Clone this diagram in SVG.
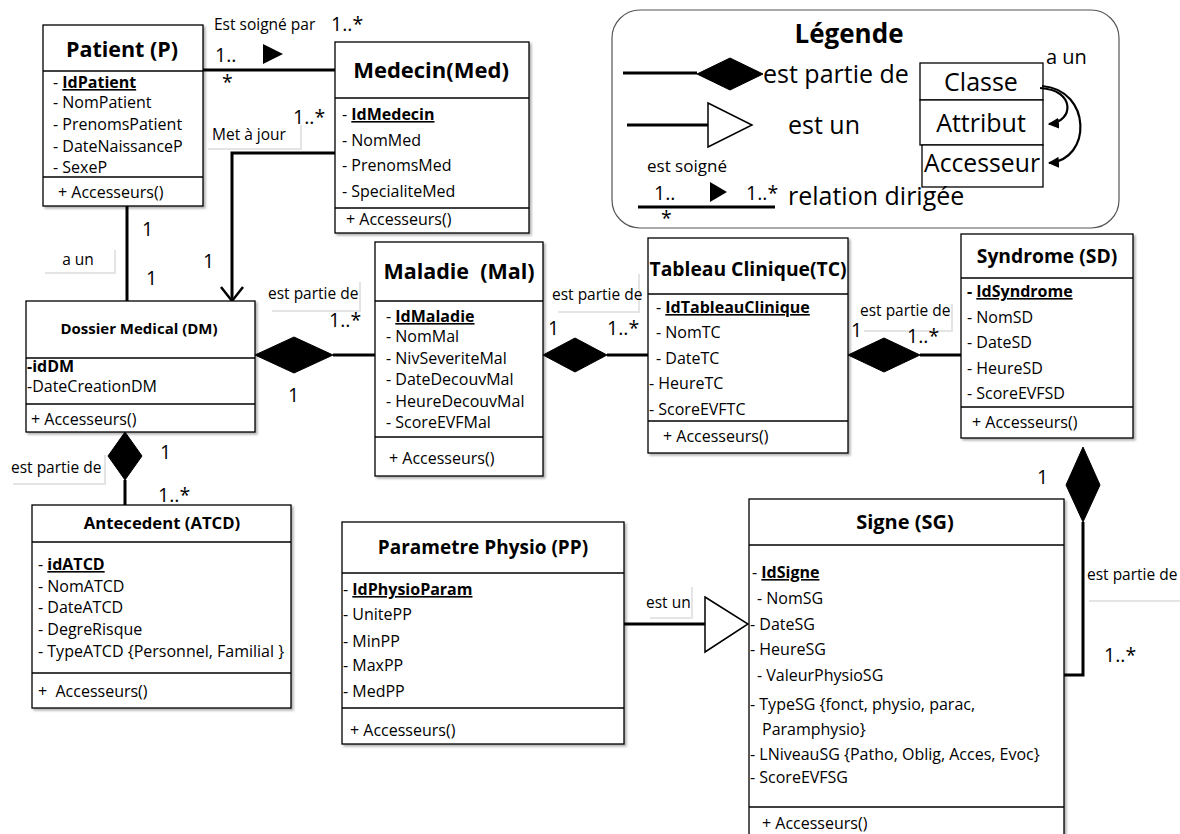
<svg xmlns="http://www.w3.org/2000/svg" width="1180" height="834" viewBox="0 0 1180 834">
<defs>
<style>
.box{fill:#fff;stroke:#000;stroke-width:1.3}
.sep{stroke:#000;stroke-width:1.3}
text{font-family:"Open Sans","Noto Sans","Liberation Sans",sans-serif;fill:#000}
.a{font-size:16px}
.ttl{font-weight:bold;text-anchor:middle}
.b{font-weight:bold}
.u{font-weight:bold;text-decoration:underline}
.lbl{font-size:15.5px}
.m{font-size:19.5px}
.lg{font-size:25px}
.ln{stroke:#000;stroke-width:3;fill:none}
.dia{fill:#000;stroke:#000;stroke-width:1}
.gen{fill:#fff;stroke:#000;stroke-width:1.5}
.lb{fill:#fff}
.lbs{fill:#e4e4e4}
</style>
<filter id="sh" x="-5%" y="-5%" width="115%" height="115%">
<feDropShadow dx="2" dy="2" stdDeviation="1.2" flood-color="#000" flood-opacity="0.3"/>
</filter>
<marker id="ah" viewBox="0 0 10 10" refX="9" refY="5" markerWidth="5" markerHeight="5" orient="auto">
<path d="M0,0 L10,5 L0,10 z" fill="#000"/>
</marker>
</defs>
<rect width="1180" height="834" fill="#fff"/>

<g id="connectors">
<!-- Patient - Medecin -->
<line class="ln" x1="203" y1="70" x2="335" y2="70"/>
<polygon points="263,44 283,54 263,64" fill="#000"/>
<text class="lbl" x="214" y="30">Est soigné par</text>
<text class="m" x="331" y="31">1..*</text>
<text class="m" x="215" y="62">1..</text>
<text class="m" x="222" y="89">*</text>
<!-- Medecin - DM -->
<polyline class="ln" points="335,153 232,153 232,300"/>
<polyline points="221,287 232,301 243,287" fill="none" stroke="#000" stroke-width="2.5"/>
<rect class="lbs" x="208" y="125" width="94" height="25"/>
<rect class="lb" x="206" y="123" width="94" height="25"/>
<text class="lbl" x="212" y="140">Met à jour</text>
<text class="m" x="293" y="124">1..*</text>
<text class="m" x="203" y="268">1</text>
<!-- Patient - DM -->
<line class="ln" x1="127" y1="206" x2="127" y2="301"/>
<text class="m" x="142" y="236">1</text>
<rect class="lbs" x="45" y="250" width="71" height="24"/>
<rect class="lb" x="43" y="248" width="71" height="24"/>
<text class="lbl" x="78" y="265" text-anchor="middle">a un</text>
<text class="m" x="146" y="285">1</text>
<!-- DM - Maladie -->
<polygon class="dia" points="255,355 294,337 333,355 294,373"/>
<line class="ln" x1="333" y1="355" x2="375" y2="355"/>
<rect class="lbs" x="272" y="282" width="89" height="30"/>
<rect class="lb" x="270" y="280" width="89" height="30"/>
<text class="lbl" x="268" y="299">est partie de</text>
<text class="m" x="329" y="327">1..*</text>
<text class="m" x="288" y="402">1</text>
<!-- DM - ATCD -->
<polygon class="dia" points="125,432 142,456 125,480 108,456"/>
<line class="ln" x1="125" y1="480" x2="125" y2="505"/>
<text class="m" x="160" y="459">1</text>
<rect class="lbs" x="13" y="455" width="93" height="30"/>
<rect class="lb" x="11" y="453" width="93" height="30"/>
<text class="lbl" x="11" y="473">est partie de</text>
<text class="m" x="158" y="502">1..*</text>
<!-- Maladie - TC -->
<polygon class="dia" points="543,355 575,338 607,355 575,372"/>
<line class="ln" x1="607" y1="355" x2="648" y2="355"/>
<rect class="lbs" x="558" y="274" width="82" height="39"/>
<rect class="lb" x="556" y="272" width="82" height="39"/>
<text class="lbl" x="552" y="300">est partie de</text>
<text class="m" x="548" y="335">1</text>
<text class="m" x="607" y="335">1..*</text>
<!-- TC - Syndrome -->
<polygon class="dia" points="848,355 884,338 920,355 884,372"/>
<line class="ln" x1="920" y1="355" x2="961" y2="355"/>
<rect class="lbs" x="864" y="304" width="89" height="28"/>
<rect class="lb" x="862" y="302" width="89" height="28"/>
<text class="lbl" x="860" y="316">est partie de</text>
<text class="m" x="851" y="337">1</text>
<text class="m" x="907" y="343">1..*</text>
<!-- Syndrome - Signe -->
<polygon class="dia" points="1083,447 1100,485 1083,522 1066,485"/>
<polyline class="ln" points="1083,522 1083,675 1064,675"/>
<text class="m" x="1037" y="484">1</text>
<rect class="lbs" x="1089" y="545" width="100" height="57"/>
<rect class="lb" x="1087" y="543" width="100" height="57"/>
<text class="lbl" x="1087" y="580">est partie de</text>
<text class="m" x="1104" y="662">1..*</text>
<!-- PP - Signe -->
<line class="ln" x1="624" y1="624" x2="705" y2="624"/>
<polygon class="gen" points="705,597 748,624 705,652"/>
<rect class="lbs" x="650" y="587" width="43" height="32"/>
<rect class="lb" x="648" y="585" width="43" height="32"/>
<text class="lbl" x="646" y="608">est un</text>
</g>

<g id="patient">
<rect class="box" filter="url(#sh)" x="43" y="25" width="160" height="181"/>
<line class="sep" x1="43" y1="71" x2="203" y2="71"/>
<line class="sep" x1="43" y1="177" x2="203" y2="177"/>
<text class="ttl" x="122" y="57" font-size="21.5">Patient (P)</text>
<text class="a" x="53" y="88">- <tspan class="u">IdPatient</tspan></text>
<text class="a" x="53" y="108">- NomPatient</text>
<text class="a" x="53" y="130">- PrenomsPatient</text>
<text class="a" x="53" y="152">- DateNaissanceP</text>
<text class="a" x="53" y="173">- SexeP</text>
<text class="a" x="58" y="198">+ Accesseurs()</text>
</g>

<g id="medecin">
<rect class="box" filter="url(#sh)" x="335" y="42" width="194" height="191"/>
<line class="sep" x1="335" y1="98" x2="529" y2="98"/>
<line class="sep" x1="335" y1="208" x2="529" y2="208"/>
<text class="ttl" x="431" y="78" font-size="22">Medecin(Med)</text>
<text class="a" x="342" y="120">- <tspan class="u">IdMedecin</tspan></text>
<text class="a" x="342" y="146">- NomMed</text>
<text class="a" x="342" y="171">- PrenomsMed</text>
<text class="a" x="342" y="197">- SpecialiteMed</text>
<text class="a" x="346" y="225">+ Accesseurs()</text>
</g>

<g id="dossier-medical">
<rect class="box" filter="url(#sh)" x="26" y="301" width="229" height="131"/>
<line class="sep" x1="26" y1="358" x2="255" y2="358"/>
<line class="sep" x1="26" y1="404" x2="255" y2="404"/>
<text class="ttl" x="139" y="334" font-size="15">Dossier Medical (DM)</text>
<text class="a b" x="27" y="372">-idDM</text>
<text class="a" x="27" y="392">-DateCreationDM</text>
<text class="a" x="31" y="425">+ Accesseurs()</text>
</g>

<g id="maladie">
<rect class="box" filter="url(#sh)" x="375" y="242" width="168" height="234"/>
<line class="sep" x1="375" y1="301" x2="543" y2="301"/>
<line class="sep" x1="375" y1="437" x2="543" y2="437"/>
<text class="ttl" x="459" y="279" font-size="21.5" xml:space="preserve">Maladie  (Mal)</text>
<text class="a" x="386" y="322">- <tspan class="u">IdMaladie</tspan></text>
<text class="a" x="386" y="342">- NomMal</text>
<text class="a" x="386" y="364">- NivSeveriteMal</text>
<text class="a" x="386" y="385">- DateDecouvMal</text>
<text class="a" x="386" y="407">- HeureDecouvMal</text>
<text class="a" x="386" y="428">- ScoreEVFMal</text>
<text class="a" x="389" y="464">+ Accesseurs()</text>
</g>

<g id="tableau-clinique">
<rect class="box" filter="url(#sh)" x="648" y="238" width="200" height="215"/>
<line class="sep" x1="648" y1="294" x2="848" y2="294"/>
<line class="sep" x1="648" y1="421" x2="848" y2="421"/>
<text class="ttl" x="748" y="276" font-size="19.3">Tableau Clinique(TC)</text>
<text class="a" x="656" y="313">- <tspan class="u">IdTableauClinique</tspan></text>
<text class="a" x="656" y="338">- NomTC</text>
<text class="a" x="656" y="364">- DateTC</text>
<text class="a" x="649" y="389">- HeureTC</text>
<text class="a" x="649" y="415">- ScoreEVFTC</text>
<text class="a" x="663" y="442">+ Accesseurs()</text>
</g>

<g id="syndrome">
<rect class="box" filter="url(#sh)" x="961" y="234" width="172" height="204"/>
<line class="sep" x1="961" y1="278" x2="1133" y2="278"/>
<line class="sep" x1="961" y1="407" x2="1133" y2="407"/>
<text class="ttl" x="1047" y="263" font-size="19.3">Syndrome (SD)</text>
<text class="a" x="967" y="297"><tspan class="b">- </tspan><tspan class="u">IdSyndrome</tspan></text>
<text class="a" x="967" y="323">- NomSD</text>
<text class="a" x="967" y="348">- DateSD</text>
<text class="a" x="967" y="374">- HeureSD</text>
<text class="a" x="967" y="399">- ScoreEVFSD</text>
<text class="a" x="972" y="428">+ Accesseurs()</text>
</g>

<g id="antecedent">
<rect class="box" filter="url(#sh)" x="32" y="505" width="259" height="203"/>
<line class="sep" x1="32" y1="542" x2="291" y2="542"/>
<line class="sep" x1="32" y1="673" x2="291" y2="673"/>
<text class="ttl" x="162" y="529" font-size="16.7">Antecedent (ATCD)</text>
<text class="a" x="38" y="570">- <tspan class="u">idATCD</tspan></text>
<text class="a" x="38" y="592">- NomATCD</text>
<text class="a" x="38" y="613">- DateATCD</text>
<text class="a" x="38" y="635">- DegreRisque</text>
<text class="a" x="38" y="657">- TypeATCD {Personnel, Familial }</text>
<text class="a" x="38" y="697" xml:space="preserve">+  Accesseurs()</text>
</g>

<g id="parametre-physio">
<rect class="box" filter="url(#sh)" x="342" y="522" width="282" height="222"/>
<line class="sep" x1="342" y1="573" x2="624" y2="573"/>
<line class="sep" x1="342" y1="708" x2="624" y2="708"/>
<text class="ttl" x="483" y="554" font-size="19">Parametre Physio (PP)</text>
<text class="a" x="343" y="595">- <tspan class="u">IdPhysioParam</tspan></text>
<text class="a" x="343" y="620">- UnitePP</text>
<text class="a" x="343" y="647">- MinPP</text>
<text class="a" x="343" y="671">- MaxPP</text>
<text class="a" x="343" y="697">- MedPP</text>
<text class="a" x="350" y="736">+ Accesseurs()</text>
</g>

<g id="signe">
<rect class="box" filter="url(#sh)" x="749" y="499" width="315" height="345"/>
<line class="sep" x1="749" y1="545" x2="1064" y2="545"/>
<line class="sep" x1="749" y1="807" x2="1064" y2="807"/>
<text class="ttl" x="905" y="529" font-size="20">Signe (SG)</text>
<text class="a" x="752" y="578">- <tspan class="u">IdSigne</tspan></text>
<text class="a" x="757" y="604">- NomSG</text>
<text class="a" x="750" y="630">- DateSG</text>
<text class="a" x="750" y="655">- HeureSG</text>
<text class="a" x="757" y="681">- ValeurPhysioSG</text>
<text class="a" x="750" y="710">- TypeSG {fonct, physio, parac,</text>
<text class="a" x="762" y="735">Paramphysio}</text>
<text class="a" x="750" y="760">- LNiveauSG {Patho, Oblig, Acces, Evoc}</text>
<text class="a" x="750" y="783">- ScoreEVFSG</text>
<text class="a" x="762" y="829">+ Accesseurs()</text>
</g>

<g id="legende">
<rect x="612" y="10" width="507" height="218" rx="28" fill="#fff" stroke="#555" stroke-width="1.2"/>
<text class="b" x="849" y="43" font-size="26" text-anchor="middle">Légende</text>
<line class="ln" x1="623" y1="73" x2="697" y2="73"/>
<polygon class="dia" points="697,74 730,58 763,74 730,90"/>
<text class="lg" x="763" y="83">est partie de</text>
<rect class="box" x="920" y="63" width="123" height="37"/>
<rect class="box" x="920" y="100" width="123" height="45"/>
<rect class="box" x="922" y="145" width="121" height="42"/>
<text class="lg" x="981" y="91" text-anchor="middle">Classe</text>
<text class="lg" x="981" y="132" text-anchor="middle">Attribut</text>
<text class="lg" x="982" y="172" text-anchor="middle" textLength="116" lengthAdjust="spacingAndGlyphs">Accesseur</text>
<text x="1046" y="64" font-size="20">a un</text>
<path d="M1040,88 C1076,90 1074,122 1049,124" fill="none" stroke="#000" stroke-width="2.2" marker-end="url(#ah)"/>
<path d="M1042,86 C1092,90 1092,160 1049,163" fill="none" stroke="#000" stroke-width="2.2" marker-end="url(#ah)"/>
<line class="ln" x1="627" y1="125" x2="708" y2="125"/>
<polygon class="gen" points="708,103 752,125 708,147"/>
<text class="lg" x="788" y="134">est un</text>
<text x="647" y="172" font-size="17">est soigné</text>
<text class="m" x="654" y="200">1..</text>
<polygon points="710,182 727,192 710,202" fill="#000"/>
<text class="m" x="746" y="200">1..*</text>
<line class="ln" x1="638" y1="207" x2="775" y2="207"/>
<text class="m" x="661" y="225">*</text>
<text class="lg" x="788" y="205">relation dirigée</text>
</g>
</svg>
